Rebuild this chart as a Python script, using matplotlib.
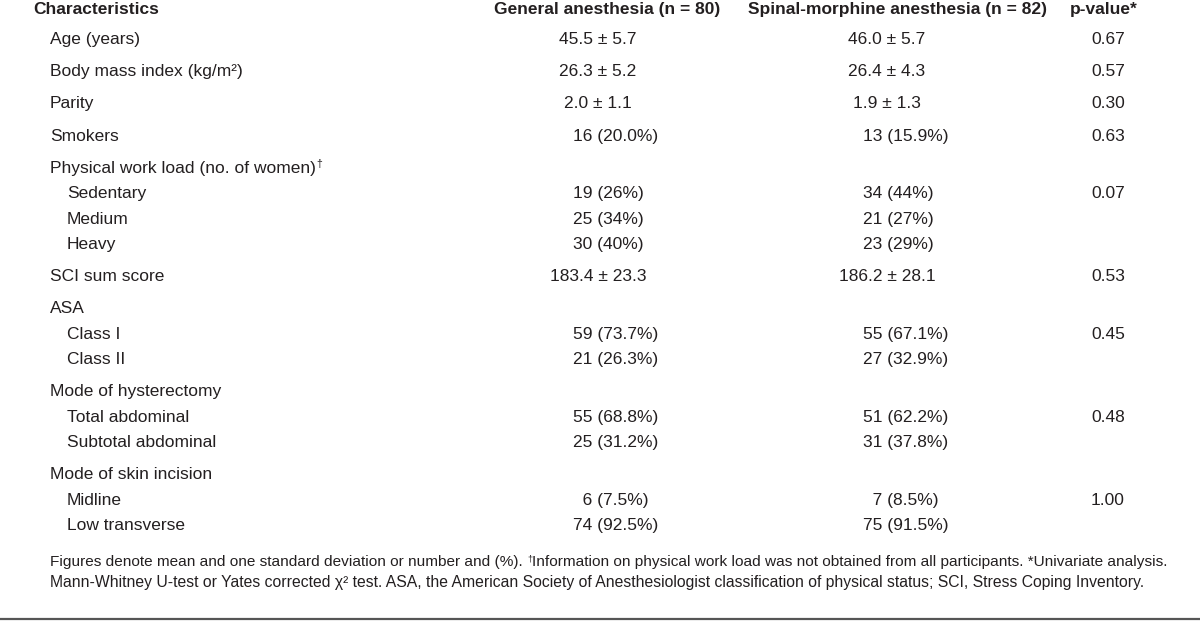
import matplotlib.pyplot as plt

plt.rcParams['font.family'] = ['Liberation Sans', 'DejaVu Sans']

# table content
headers = ["Characteristics", "General anesthesia (n = 80)",
           "Spinal-morphine anesthesia (n = 82)", "p-value*"]

labels = ["Age (years)", "Body mass index (kg/m²)", "Parity", "Smokers",
          "Physical work load (no. of women)†",
          "Sedentary", "Medium", "Heavy",
          "SCI sum score",
          "ASA", "Class I", "Class II",
          "Mode of hysterectomy", "Total abdominal", "Subtotal abdominal",
          "Mode of skin incision", "Midline", "Low transverse"]
level = [0, 0, 0, 0, 0, 1, 1, 1, 0, 0, 1, 1, 0, 1, 1, 0, 1, 1]

general = ["45.5 ± 5.7", "26.3 ± 5.2", "2.0 ± 1.1", "16 (20.0%)", "",
           "19 (26%)", "25 (34%)", "30 (40%)",
           "183.4 ± 23.3",
           "", "59 (73.7%)", "21 (26.3%)",
           "", "55 (68.8%)", "25 (31.2%)",
           "", "\u20076 (7.5%)", "74 (92.5%)"]
spinal = ["46.0 ± 5.7", "26.4 ± 4.3", "1.9 ± 1.3", "13 (15.9%)", "",
          "34 (44%)", "21 (27%)", "23 (29%)",
          "186.2 ± 28.1",
          "", "55 (67.1%)", "27 (32.9%)",
          "", "51 (62.2%)", "31 (37.8%)",
          "", "\u20077 (8.5%)", "75 (91.5%)"]
pvalues = ["0.67", "0.57", "0.30", "0.63", "",
           "0.07", "", "",
           "0.53",
           "", "0.45", "",
           "", "0.48", "",
           "", "1.00", ""]

footnotes = [
    "Figures denote mean and one standard deviation or number and (%). "
    "†Information on physical work load was not obtained from "
    "all participants. *Univariate analysis.",
    "Mann-Whitney U-test or Yates corrected χ² test. ASA, the American "
    "Society of Anesthesiologist classification of physical status; SCI, "
    "Stress Coping Inventory.",
]

ink = "#231f20"
fs = 12.5

fig = plt.figure(figsize=(12, 6.27), dpi=100)
ax = fig.add_axes([0, 0, 1, 1])
ax.set_xlim(0, 1200)
ax.set_ylim(627, 0)
ax.axis("off")
renderer = fig.canvas.get_renderer()


def draw(x, y, s, size, **kw):
    # plain text, with any dagger drawn as a small raised mark
    parts = s.split("†")
    for j, part in enumerate(parts):
        if j > 0:
            d = ax.text(x, y - size * 0.45, "†", ha="left", va="baseline",
                        fontsize=size * 0.6, color=ink)
            x = ax.transData.inverted().transform(
                d.get_window_extent(renderer))[1][0]
        if part:
            t = ax.text(x, y, part, ha="left", va="baseline",
                        fontsize=size, color=ink, **kw)
            x = ax.transData.inverted().transform(
                t.get_window_extent(renderer))[1][0]


# header
hy = 14
ax.text(33, hy, headers[0], ha="left", va="baseline", fontsize=fs,
        fontweight="bold", color=ink)
ax.text(607, hy, headers[1], ha="center", va="baseline", fontsize=fs,
        fontweight="bold", color=ink)
ax.text(898, hy, headers[2], ha="center", va="baseline", fontsize=fs,
        fontweight="bold", color=ink)
ax.text(1104, hy, headers[3], ha="center", va="baseline", fontsize=fs,
        fontweight="bold", color=ink)

# row positions: bigger gap before top-level rows, tighter for sub rows
ys = []
y = 38 - 32.2
for lv in level:
    y += 25.4 if lv == 1 else 32.2
    ys.append(y)

for i, lab in enumerate(labels):
    base = ys[i] + 6
    draw(50 + 17 * level[i], base, lab, fs)
    for val, xc, xl in ((general[i], 598, 573), (spinal[i], 887, 863)):
        if not val:
            continue
        if "±" in val:
            ax.text(xc, base, val, ha="center", va="baseline",
                    fontsize=fs, color=ink)
        else:
            ax.text(xl, base, val, ha="left", va="baseline",
                    fontsize=fs, color=ink)
    if pvalues[i]:
        ax.text(1091, base, pvalues[i], ha="left", va="baseline",
                fontsize=fs, color=ink)

# footnotes
for k, (note, size) in enumerate(zip(footnotes, (11.1, 11.3))):
    draw(50, 566 + 21 * k, note, size)

ax.plot([0, 1200], [619, 619], color="#555555", lw=1.6,
        solid_capstyle="butt")

fig.savefig("out.png", dpi=100)
